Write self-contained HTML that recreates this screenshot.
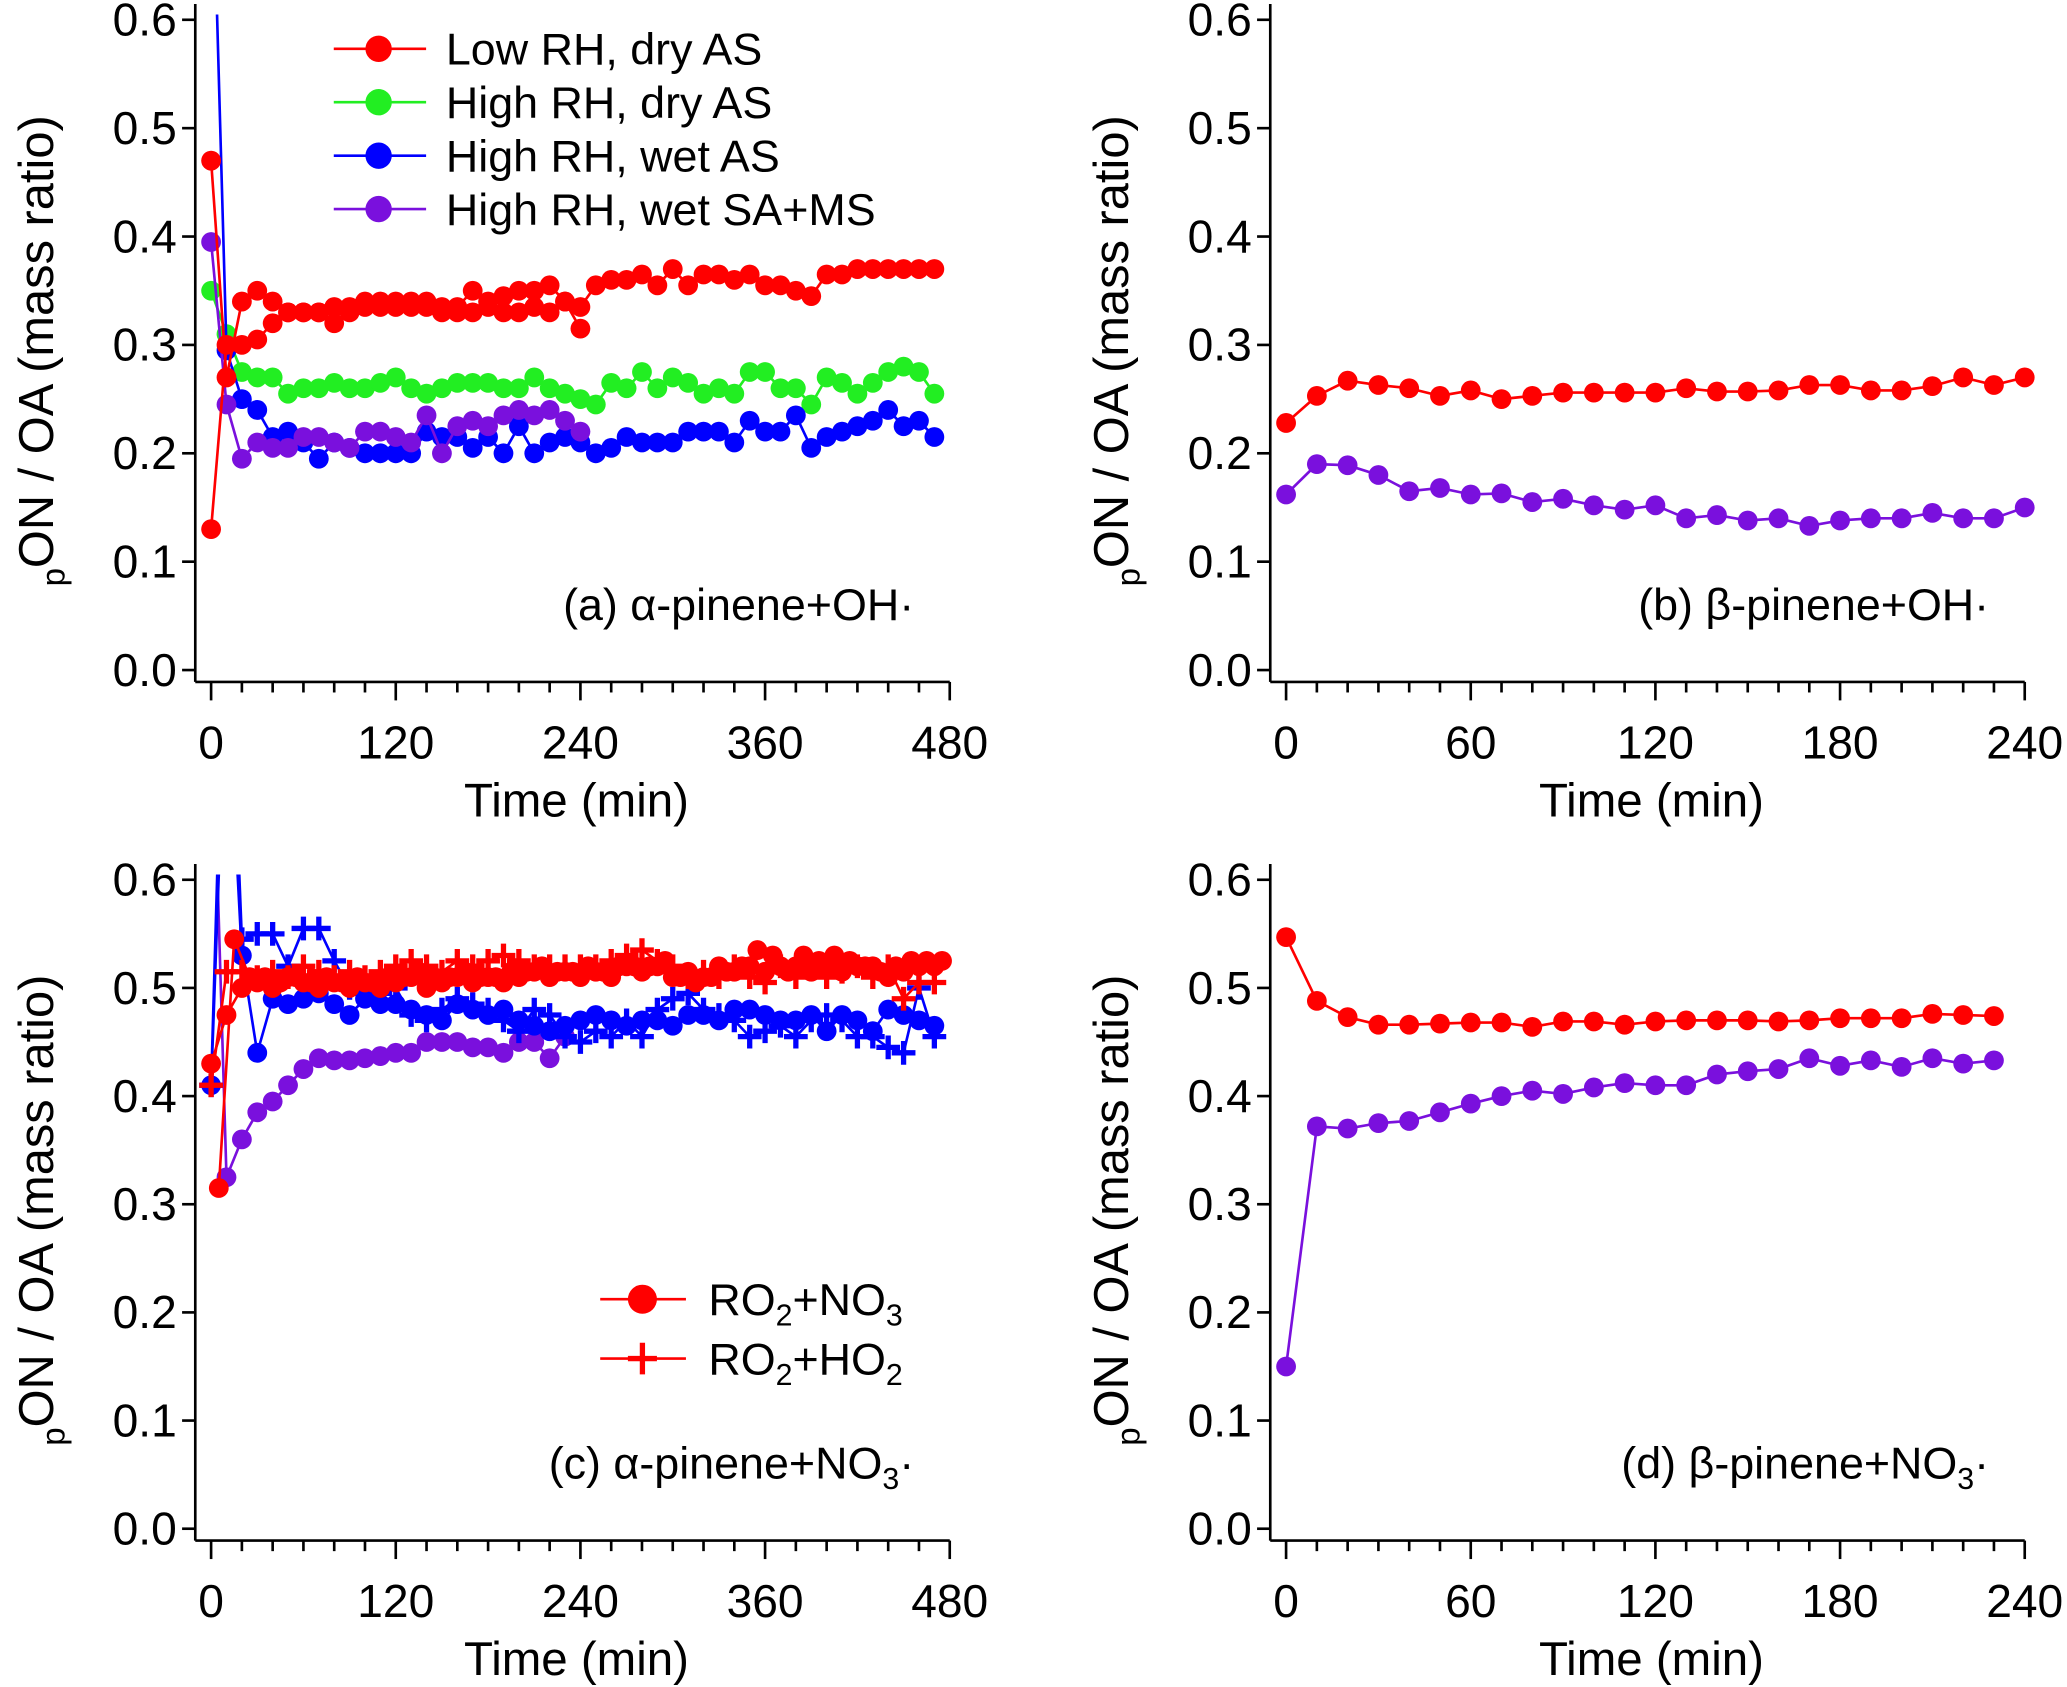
<!DOCTYPE html>
<html><head><meta charset="utf-8"><style>
html,body{margin:0;padding:0;background:#fff;}
svg{display:block;}
text{font-family:"Liberation Sans",sans-serif;fill:#000;}
</style></head><body>
<svg id="fig" width="2067" height="1687" viewBox="0 0 1567 1279" xmlns="http://www.w3.org/2000/svg"></svg>
<script>
// ---- data ----
const aRedA = [0.47,0.27,0.34,0.35,0.34,0.33,0.33,0.33,0.32,0.33,0.34,0.34,0.34,0.34,0.34,0.33,0.335,0.35,0.34,0.345,0.35,0.35,0.355,0.34,0.315];
const aRedB = [0.13,0.30,0.30,0.305,0.32,0.33,0.33,0.33,0.335,0.335,0.335,0.335,0.335,0.335,0.335,0.335,0.33,0.33,0.335,0.33,0.33,0.335,0.33,0.34,0.335,0.355,0.36,0.36,0.365,0.355,0.37,0.355,0.365,0.365,0.36,0.365,0.355,0.355,0.35,0.345,0.365,0.365,0.37,0.37,0.37,0.37,0.37,0.37];
const aGreen = [0.35,0.31,0.275,0.27,0.27,0.255,0.26,0.26,0.265,0.26,0.26,0.265,0.27,0.26,0.255,0.26,0.265,0.265,0.265,0.26,0.26,0.27,0.26,0.255,0.25,0.245,0.265,0.26,0.275,0.26,0.27,0.265,0.255,0.26,0.255,0.275,0.275,0.26,0.26,0.245,0.27,0.265,0.255,0.265,0.275,0.28,0.275,0.255];
const aBlue = [0.8,0.295,0.25,0.24,0.215,0.22,0.21,0.195,0.21,0.205,0.20,0.20,0.20,0.20,0.22,0.215,0.215,0.205,0.215,0.20,0.225,0.20,0.21,0.215,0.21,0.20,0.205,0.215,0.21,0.21,0.21,0.22,0.22,0.22,0.21,0.23,0.22,0.22,0.235,0.205,0.215,0.22,0.225,0.23,0.24,0.225,0.23,0.215];
const aPurple = [0.395,0.245,0.195,0.21,0.205,0.205,0.215,0.215,0.21,0.205,0.22,0.22,0.215,0.21,0.235,0.20,0.225,0.23,0.225,0.235,0.24,0.235,0.24,0.23,0.22];
const bRed = [0.228,0.253,0.267,0.263,0.26,0.253,0.258,0.25,0.253,0.256,0.256,0.256,0.256,0.26,0.257,0.257,0.258,0.263,0.263,0.258,0.258,0.262,0.27,0.263,0.27];
const bPurple = [0.162,0.19,0.189,0.18,0.165,0.168,0.162,0.163,0.155,0.158,0.152,0.148,0.152,0.14,0.143,0.138,0.14,0.133,0.138,0.14,0.14,0.145,0.14,0.14,0.15];
const cRedCircA = [0.315,0.545,0.51,0.51,0.505,0.51,0.505,0.51,0.505,0.51,0.505,0.51,0.51,0.515,0.51,0.51,0.515,0.51,0.51,0.515,0.515,0.52,0.515,0.515,0.52,0.515,0.52,0.52,0.52,0.525,0.51,0.505,0.51,0.515,0.52,0.535,0.53,0.515,0.53,0.525,0.53,0.525,0.52,0.515,0.52,0.525,0.525,0.525];
const cRedCircB = [0.43,0.475,0.5,0.505,0.5,0.51,0.505,0.5,0.505,0.5,0.505,0.5,0.505,0.51,0.5,0.505,0.51,0.505,0.51,0.505,0.51,0.515,0.51,0.515,0.51,0.515,0.51,0.52,0.515,0.52,0.51,0.515,0.51,0.52,0.515,0.52,0.515,0.52,0.52,0.515,0.52,0.515,0.52,0.52,0.51,0.515,0.52,0.52];
const cRedCross = [0.41,0.515,0.515,0.51,0.515,0.51,0.52,0.515,0.51,0.515,0.51,0.515,0.52,0.525,0.52,0.515,0.525,0.52,0.525,0.53,0.525,0.52,0.52,0.52,0.52,0.52,0.525,0.53,0.535,0.525,0.52,0.51,0.515,0.51,0.52,0.51,0.505,0.52,0.51,0.52,0.51,0.515,0.52,0.51,0.52,0.49,0.505,0.505];
const cBlueCirc = [0.41,0.8,0.53,0.44,0.49,0.485,0.49,0.495,0.485,0.475,0.49,0.485,0.485,0.48,0.475,0.47,0.485,0.48,0.475,0.48,0.47,0.465,0.46,0.465,0.47,0.475,0.47,0.465,0.47,0.47,0.465,0.475,0.475,0.47,0.48,0.48,0.475,0.47,0.47,0.475,0.46,0.475,0.47,0.46,0.48,0.475,0.47,0.465];
const cBlueCross = [0.41,0.9,0.545,0.55,0.55,0.52,0.555,0.555,0.525,0.50,0.495,0.495,0.50,0.475,0.47,0.48,0.49,0.485,0.48,0.47,0.46,0.48,0.475,0.455,0.45,0.46,0.455,0.47,0.455,0.48,0.49,0.495,0.48,0.475,0.47,0.455,0.46,0.465,0.455,0.47,0.475,0.47,0.455,0.455,0.445,0.44,0.5,0.455];
const cPurple = [0.8,0.325,0.36,0.385,0.395,0.41,0.425,0.435,0.433,0.433,0.435,0.437,0.44,0.44,0.45,0.45,0.45,0.445,0.445,0.44,0.45,0.45,0.435,0.455];
const dRed = [0.547,0.488,0.473,0.466,0.466,0.467,0.468,0.468,0.464,0.469,0.469,0.466,0.469,0.47,0.47,0.47,0.469,0.47,0.472,0.472,0.472,0.476,0.475,0.474];
const dPurple = [0.15,0.372,0.37,0.375,0.377,0.385,0.393,0.4,0.405,0.402,0.408,0.412,0.41,0.41,0.42,0.423,0.425,0.435,0.428,0.433,0.427,0.435,0.43,0.433];
const yTicks = ["0.0","0.1","0.2","0.3","0.4","0.5","0.6"];
const xTicksWide = [0,120,240,360,480];
const xTicksNarrow = [0,60,120,180,240];
const TSTEP = 10;

const RED="#ff0000", GREEN="#22ee22", BLUE="#0000ff", PURPLE="#7a10dd";
const NS="http://www.w3.org/2000/svg";
const svg=document.getElementById('fig');
function el(tag,attrs,parent){const e=document.createElementNS(NS,tag);for(const k in attrs)e.setAttribute(k,attrs[k]);(parent||svg).appendChild(e);return e;}

function panel(id,px0,px1,axX,py0,py6,axY,xmax,xticks,minorStep,label){
  const g=el('g',{});
  
  
  const xs=t=>px0+(px1-px0)*t/xmax;
  const ys=v=>py0+(py6-py0)*v/0.6;
  const cp=el('clipPath',{id:'clip'+id},g);
  el('rect',{x:axX,y:py6-4,width:px1-axX+10,height:axY-py6+4},cp);
  const ya=el('line',{x1:axX,y1:py6-12,x2:axX,y2:axY,stroke:'#000','stroke-width':2},g);
  
  
  const xa=el('line',{x1:axX,y1:axY,x2:px1,y2:axY,stroke:'#000','stroke-width':2},g);
  
  
  yTicks.forEach((lab,i)=>{
    const v=i*0.1, y=ys(v);
    el('line',{x1:axX-10,y1:y,x2:axX,y2:y,stroke:'#000','stroke-width':2},g);
    const t=el('text',{x:axX-14,y:y+12,'font-size':35,'text-anchor':'end'},g);
    t.textContent=lab;
    
    
  });
  for(let m=0;m<=xmax;m+=minorStep){
    const major=xticks.includes(m);
    el('line',{x1:xs(m),y1:axY,x2:xs(m),y2:axY+(major?14:8),stroke:'#000','stroke-width':2},g);
  }
  xticks.forEach(v=>{
    const t=el('text',{x:xs(v),y:axY+58,'font-size':35,'text-anchor':'middle'},g);
    t.textContent=v;
    
    
  });
  const xt=el('text',{x:(axX+px1)/2+3,y:axY+102,'font-size':36,'text-anchor':'middle'},g);
  xt.textContent='Time (min)';
  
  
  const cy=(py6+axY)/2;
  const yt=el('text',{transform:`translate(${axX-108},${cy}) rotate(-90)`,'font-size':37,'text-anchor':'middle'},g);
  yt.innerHTML='<tspan font-size="25" dy="9">p</tspan><tspan dy="-9">ON / OA (mass ratio)</tspan>';
  
  
  const pl=el('text',{x:px1-27,y:ys(0.05)+3,'font-size':34,'text-anchor':'end'},g);
  pl.innerHTML=label;
  
  
  const dg=el('g',{'clip-path':`url(#clip${id})`},g);
  return {g:dg,xs,ys};
}

function series(P,vals,t0,color,marker,name){
  const s=el('g',{},P.g);
  
  
  const pts=vals.map((v,i)=>[P.xs(t0+i*TSTEP),P.ys(v)]);
  el('polyline',{points:pts.map(p=>p.join(',')).join(' '),fill:'none',stroke:color,'stroke-width':2},s);
  pts.forEach(p=>{
    if(marker==='circle'){
      const c=el('circle',{cx:p[0],cy:p[1],r:7.5,fill:color},s);
      
      
    } else {
      const c=el('path',{d:`M${p[0]-9},${p[1]}h18M${p[0]},${p[1]-9}v18`,stroke:color,'stroke-width':4},s);
      
      
    }
  });
}

const A=panel('a',160,720,148,508,15,517,480,xTicksWide,20,'(a) α-pinene+OH·');
series(A,aGreen,0,GREEN,'circle','series-high-rh-dry-as');
series(A,aBlue,0,BLUE,'circle','series-high-rh-wet-as');
series(A,aPurple,0,PURPLE,'circle','series-high-rh-wet-sa-ms');
series(A,aRedA,0,RED,'circle','series-low-rh-dry-as-run1');
series(A,aRedB,0,RED,'circle','series-low-rh-dry-as-run2');

const B=panel('b',975,1535,963,508,15,517,240,xTicksNarrow,10,'(b) β-pinene+OH·');
series(B,bRed,0,RED,'circle','series-red');
series(B,bPurple,0,PURPLE,'circle','series-purple');

const C=panel('c',160,720,148,1159,667,1168,480,xTicksWide,20,'(c) α-pinene+NO<tspan font-size="23" dy="8">3</tspan><tspan dy="-8">·</tspan>');
series(C,cPurple,0,PURPLE,'circle','series-purple');
series(C,cBlueCirc,0,BLUE,'circle','series-blue-ro2-no3');
series(C,cBlueCross,0,BLUE,'cross','series-blue-ro2-ho2');
series(C,cRedCircB,0,RED,'circle','series-red-ro2-no3-b');
series(C,cRedCircA,5,RED,'circle','series-red-ro2-no3-a');
series(C,cRedCross,0,RED,'cross','series-red-ro2-ho2');

const D=panel('d',975,1535,963,1159,667,1168,240,xTicksNarrow,10,'(d) β-pinene+NO<tspan font-size="23" dy="8">3</tspan><tspan dy="-8">·</tspan>');
series(D,dRed,0,RED,'circle','series-red');
series(D,dPurple,0,PURPLE,'circle','series-purple');

const legA=el('g',{});


[["Low RH,  dry AS",RED],["High RH,  dry AS",GREEN],["High RH,  wet AS",BLUE],["High RH,  wet SA+MS",PURPLE]].forEach((d,i)=>{
  const y=37+i*40.5;
  const e=el('g',{},legA);
  
  
  el('line',{x1:253,y1:y,x2:323,y2:y,stroke:d[1],'stroke-width':2},e);
  el('circle',{cx:287,cy:y,r:10,fill:d[1]},e);
  const t=el('text',{x:338,y:y+12,'font-size':34,'xml:space':'preserve'},e);
  t.textContent=d[0];
});
const legC=el('g',{});


[["circle",985],["cross",1030]].forEach((d,i)=>{
  const e=el('g',{},legC);
  
  
  const y=d[1];
  el('line',{x1:455,y1:y,x2:520,y2:y,stroke:RED,'stroke-width':2},e);
  if(d[0]==='circle') el('circle',{cx:487,cy:y,r:11,fill:RED},e);
  else el('path',{d:`M${476},${y}h22M${487},${y-12}v24`,stroke:RED,'stroke-width':4},e);
  const t=el('text',{x:537,y:y+12,'font-size':34},e);
  t.innerHTML='RO<tspan font-size="23" dy="8">2</tspan><tspan dy="-8">+'+(i===0?'NO':'HO')+'</tspan><tspan font-size="23" dy="8">'+(i===0?'3':'2')+'</tspan>';
});
</script>
</body></html>
